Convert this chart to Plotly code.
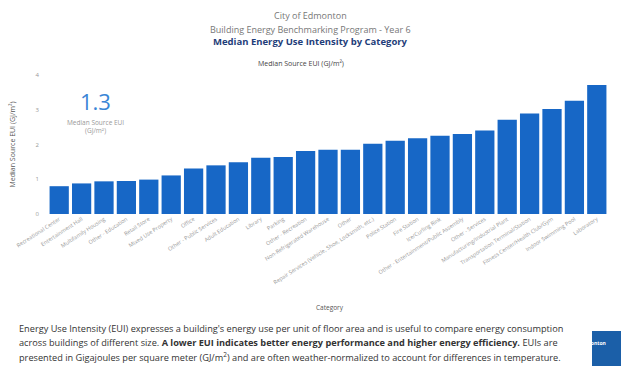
import plotly.graph_objects as go

categories = [
    "Recreational Center", "Entertainment Hall", "Multifamily Housing", "Other - Education",
    "Retail Store", "Mixed Use Property", "Office", "Other - Public Services", "Adult Education",
    "Library", "Parking", "Other - Recreation", "Non-Refrigerated Warehouse", "Other",
    "Repair Services (Vehicle, Shoe, Locksmith, etc.)", "Police Station", "Fire Station",
    "Ice/Curling Rink", "Other - Entertainment/Public Assembly", "Other - Services",
    "Manufacturing/Industrial Plant", "Transportation Terminal/Station",
    "Fitness Center/Health Club/Gym", "Indoor Swimming Pool", "Laboratory",
]
median_eui = [0.80, 0.88, 0.94, 0.95, 0.99, 1.11, 1.31, 1.40, 1.49, 1.62, 1.64, 1.81, 1.85,
              1.85, 2.02, 2.11, 2.18, 2.25, 2.30, 2.40, 2.71, 2.89, 3.02, 3.26, 3.71]
y_ticks = [0, 1, 2, 3, 4]
kpi_value = "1.3"

FONT = "Open Sans"
L, T, R, B = 48, 75, 608, 214  # plot area in pixels
PW, PH = R - L, B - T


def px(x):
    return (x - L) / PW


def py(y):
    return (B - y) / PH


fig = go.Figure(go.Bar(
    x=categories, y=median_eui, marker_color="#1767C6", marker_line_width=0,
))

fig.update_layout(
    width=621, height=366,
    margin=dict(l=L, r=621 - R, t=T, b=366 - B, autoexpand=False),
    paper_bgcolor="white", plot_bgcolor="white",
    bargap=0.14, showlegend=False,
    font=dict(family=FONT, color="#888"),
)
fig.update_yaxes(range=[0, 4], tickvals=y_ticks, showgrid=False, zeroline=False,
                 tickfont=dict(size=6, color="#999"), ticks="", ticklabelstandoff=8,
                 automargin=False,
                 title=dict(text="Median Source EUI (GJ/m²)", font=dict(size=7, color="#555"),
                            standoff=19))
fig.update_xaxes(tickangle=-33, tickfont=dict(size=5.5, color="#999"), showgrid=False,
                 automargin=False)

anns = [
    dict(text="City of Edmonton", x=310, y=15, size=9, color="#777"),
    dict(text="Building Energy Benchmarking Program - Year 6", x=310, y=29, size=9, color="#777"),
    dict(text="<b>Median Energy Use Intensity by Category</b>", x=310, y=42, size=9.5, color="#1F3E7A"),
    dict(text="Median Source EUI (GJ/m²)", x=301, y=63, size=7, color="#444"),
    dict(text=kpi_value, x=95, y=101, size=22, color="#3A86D6"),
    dict(text="Median Source EUI<br>(GJ/m²)", x=95, y=126, size=6.5, color="#999"),
    dict(text="Category", x=330, y=307, size=6.5, color="#555"),
]
for a in anns:
    fig.add_annotation(text=a["text"], xref="paper", yref="paper", x=px(a["x"]),
                       y=py(a["y"]), yanchor="middle", xanchor="center",
                       showarrow=False, font=dict(size=a["size"], color=a["color"], family=FONT))

footer_lines = [
    "Energy Use Intensity (EUI) expresses a building's energy use per unit of floor area and is useful to compare energy consumption",
    "across buildings of different size. <b>A lower EUI indicates better energy performance and higher energy efficiency.</b> EUIs are",
    "presented in Gigajoules per square meter (GJ/m<sup>2</sup>) and are often weather-normalized to account for differences in temperature.",
]
for i, line in enumerate(footer_lines):
    fig.add_annotation(text=line, xref="paper", yref="paper", x=px(17),
                       y=py(328 + 14.5 * i), xanchor="left", yanchor="middle", align="left",
                       showarrow=False, font=dict(size=9.2, color="#333", family=FONT))

# logo box
fig.add_shape(type="rect", xref="paper", yref="paper",
              x0=px(592), x1=px(621), y0=py(366), y1=py(331),
              fillcolor="#1B5FA8", line_width=0)
fig.add_annotation(text="<b>Edmonton</b>", xref="paper", yref="paper",
                   x=px(608), y=py(348), showarrow=False,
                   font=dict(size=5, color="white", family=FONT))

fig.write_html("out.html", config={"displayModeBar": False},
               post_script="document.body.style.margin='0';document.body.style.overflow='hidden';")
